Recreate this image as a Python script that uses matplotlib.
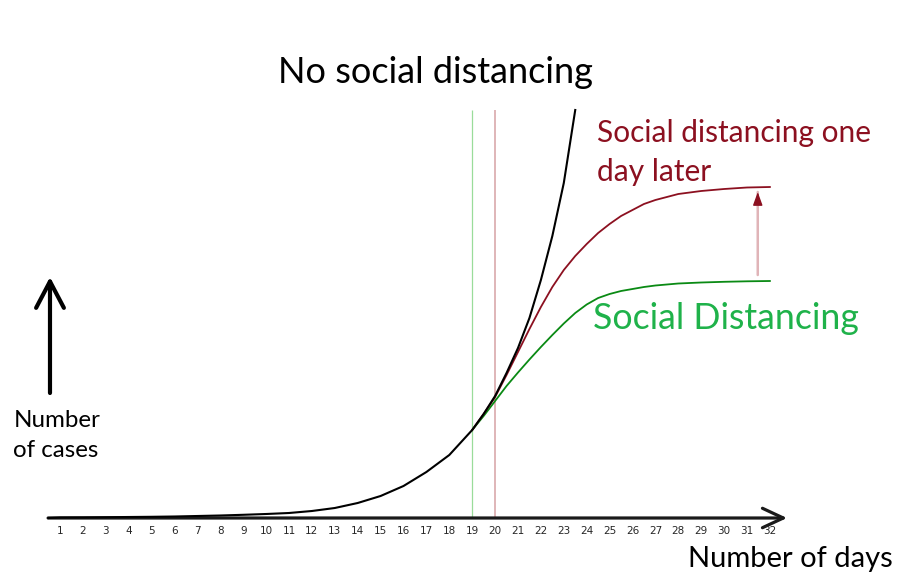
import matplotlib
matplotlib.use("Agg")
import matplotlib.pyplot as plt

plt.rcParams['font.family'] = ['Lato', 'DejaVu Sans']

# curve heights in arbitrary "cases" units (pixels above the day axis)
days_black = [0.5, 1, 2, 3, 4, 5, 6, 7, 8, 9, 10, 11, 12, 13, 14, 15, 16, 17, 18,
              19, 19.5, 20, 20.5, 21, 21.5, 22, 22.5, 23, 23.5]
cases_black = [0, 0.5, 0.6, 0.8, 1.0, 1.2, 1.5, 2.0, 2.5, 3.2, 4.0, 5.0, 7.0, 10, 15, 22, 32, 46, 63,
               88, 104, 122, 145, 170, 200, 238, 282, 335, 408]

days_sd = [19, 19.5, 20, 20.5, 21, 21.5, 22, 22.5, 23, 23.5, 24, 24.5, 25, 25.5, 26,
           26.5, 27, 27.5, 28, 29, 30, 31, 32]
cases_late = [88, 104, 121, 143, 166, 189, 211, 231, 248, 262, 274, 285, 294, 302, 308,
              314, 318, 321, 324, 327, 329, 330.5, 331]
cases_sd = [88, 102, 117, 132, 145.5, 158.5, 171, 183, 194.5, 205, 213.5, 220, 224, 227, 229,
            231, 232.5, 233.5, 234.5, 235.5, 236.2, 236.7, 237]

tick_days = list(range(1, 33))
start_sd = 19
start_late = 20

RED = '#8c1020'
GREEN_LINE = '#0a8a14'
GREEN_TEXT = '#1fb24a'

fig = plt.figure(figsize=(9.14, 5.86), dpi=100)
ax = fig.add_axes([0, 0, 1, 1])
ax.set_xlim(-1.620, 38.293)
ax.set_ylim(-68, 518)
ax.axis('off')

# day 19 / day 20 markers
ax.vlines(start_sd, 0, 408, color='#9adc9a', lw=0.9, zorder=1)
ax.vlines(start_late, 0, 408, color='#dcb0b2', lw=1.3, zorder=1)

ax.plot(days_sd, cases_sd, color=GREEN_LINE, lw=1.3, zorder=3)
ax.plot(days_sd, cases_late, color=RED, lw=1.3, zorder=3)
ax.plot(days_black, cases_black, color='black', lw=1.5, zorder=4)

# x axis with open arrow head
ax.annotate('', xy=(32.75, 0), xytext=(0.48, 0),
            arrowprops=dict(arrowstyle='->,head_length=0.75,head_width=0.35',
                            lw=2.3, color='#1a1a1a', mutation_scale=20, shrinkA=0, shrinkB=0))
# y axis arrow
ax.annotate('', xy=(0.563, 241), xytext=(0.563, 125),
            arrowprops=dict(arrowstyle='->,head_length=0.95,head_width=0.5',
                            lw=3.0, color='black', mutation_scale=20, shrinkA=0, shrinkB=0))

# gap arrow between the two plateaus
gap_x = 31.47
ax.annotate('', xy=(gap_x, cases_late[-1] - 5), xytext=(gap_x, cases_sd[-1] + 6),
            arrowprops=dict(arrowstyle='-', lw=1.8, color='#e0b4b8', shrinkA=0, shrinkB=0))
ax.annotate('', xy=(gap_x, cases_late[-1] - 5), xytext=(gap_x, cases_late[-1] - 16),
            arrowprops=dict(arrowstyle='-|>,head_length=0.5,head_width=0.18',
                            lw=1.0, color=RED, mutation_scale=16, shrinkA=0, shrinkB=0))

for d in tick_days:
    ax.text(d, -13, str(d), ha='center', va='center', fontsize=7.5,
            color='#262626', family='DejaVu Sans')

ax.text(10.52, 435, 'No social distancing', fontsize=26, color='black', va='baseline')
ax.text(24.45, 376, 'Social distancing one', fontsize=21.5, color=RED, va='baseline')
ax.text(24.45, 337, 'day later', fontsize=21.5, color=RED, va='baseline')
ax.text(24.28, 189, 'Social Distancing', fontsize=25.7, color=GREEN_TEXT, va='baseline')
ax.text(28.43, -49, 'Number of days', fontsize=21, color='black', va='baseline')
ax.text(-1.04, 91, 'Number', fontsize=17.4, color='black', va='baseline')
ax.text(-1.04, 61, 'of cases', fontsize=17.4, color='black', va='baseline')

fig.savefig('out.png', dpi=100)
